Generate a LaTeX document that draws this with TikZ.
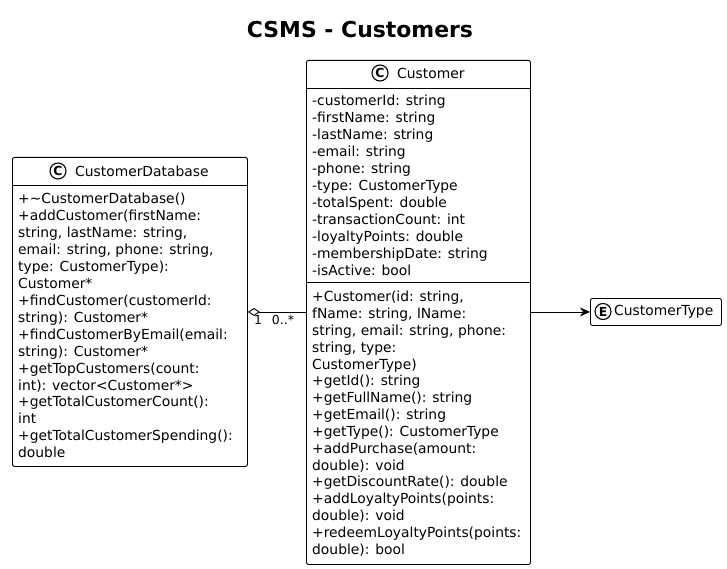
\documentclass[tikz,border=0pt]{standalone}
\usepackage{fontspec}
\setmainfont{DejaVu Sans}
\usetikzlibrary{arrows.meta}
\begin{document}
\begin{tikzpicture}[x=1bp,y=-1bp,
  box/.style={draw=black, line width=0.9bp, rounded corners=2bp, fill=white, inner sep=0pt, anchor=north west},
  txt/.style={anchor=north west, inner sep=0pt, align=left, font=\fontsize{13.9}{17}\selectfont},
  icon/.style={circle, draw=black, line width=1.1bp, inner sep=0pt, minimum size=16bp, font=\fontsize{12.5}{12.5}\selectfont\bfseries},
  lbl/.style={inner sep=0pt, font=\fontsize{13.9}{15}\selectfont},
  mult/.style={inner sep=0pt, anchor=north, font=\fontsize{12.5}{14}\selectfont},
  conn/.style={draw=black, line width=0.9bp}]
\useasboundingbox (0,0) rectangle (727,569);
\fill[white] (0,0) rectangle (727,569);
\node[font=\fontsize{22}{26}\selectfont\bfseries] (title) at (360,30) {CSMS - Customers};

% CustomerDatabase
\node[box, minimum width=235bp, minimum height=309bp] (db) at (12,157) {};
\draw[conn] ([yshift=-28bp]db.north west) -- ([yshift=-28bp]db.north east);
\node[icon] (dbi) at (58,171) {C};
\node[lbl, anchor=west] (dbn) at (75,171) {CustomerDatabase};
\node[txt] (dbm) at (18,193) {+\char"223C CustomerDatabase()\\
+addCustomer(firstName:\\
string, lastName: string,\\
email: string, phone: string,\\
type: CustomerType):\\
Customer*\\
+findCustomer(customerId:\\
string): Customer*\\
+findCustomerByEmail(email:\\
string): Customer*\\
+getTopCustomers(count:\\
int): vector<Customer*>\\
+getTotalCustomerCount():\\
int\\
+getTotalCustomerSpending():\\
double};

% Customer
\node[box, minimum width=224bp, minimum height=504bp] (cu) at (306,60) {};
\draw[conn] ([yshift=-28bp]cu.north west) -- ([yshift=-28bp]cu.north east);
\draw[conn] ([yshift=-222bp]cu.north west) -- ([yshift=-222bp]cu.north east);
\node[icon] (cui) at (380,73) {C};
\node[lbl, anchor=west] (cun) at (397,73) {Customer};
\node[txt] (cua) at (312,95) {-customerId: string\\
-firstName: string\\
-lastName: string\\
-email: string\\
-phone: string\\
-type: CustomerType\\
-totalSpent: double\\
-transactionCount: int\\
-loyaltyPoints: double\\
-membershipDate: string\\
-isActive: bool};
\node[txt, font=\fontsize{13.9}{16.9}\selectfont] (cum) at (312,291) {+Customer(id: string,\\
fName: string, lName:\\
string, email: string, phone:\\
string, type:\\
CustomerType)\\
+getId(): string\\
+getFullName(): string\\
+getEmail(): string\\
+getType(): CustomerType\\
+addPurchase(amount:\\
double): void\\
+getDiscountRate(): double\\
+addLoyaltyPoints(points:\\
double): void\\
+redeemLoyaltyPoints(points:\\
double): bool};

% CustomerType
\node[box, minimum width=131bp, minimum height=27bp] (ct) at (590,298) {};
\node[icon, minimum size=16bp] (cti) at (603,311.5) {E};
\node[lbl, anchor=west] (ctn) at (614,311.5) {CustomerType};

% connectors
\draw[conn, -{Diamond[open, length=12bp, width=8bp]}] (db.east -| cu.west) -- (db.east);
\node[mult] (m1) at (258,315) {1};
\node[mult] (m2) at (283,315) {0..*};
\draw[conn, -{Stealth[length=10bp, width=9bp, inset=3bp]}] (ct.west -| cu.east) -- (ct.west);
\end{tikzpicture}
\end{document}
